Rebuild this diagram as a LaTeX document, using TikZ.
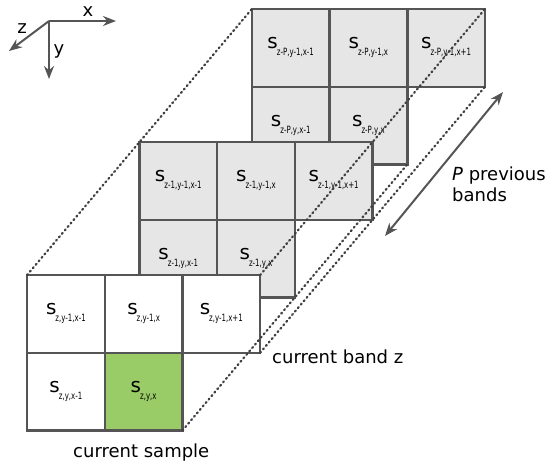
\documentclass[tikz,border=0pt]{standalone}
\usepackage{fontspec}
\setmainfont{DejaVu Sans}
\usetikzlibrary{arrows.meta}

\definecolor{bandgray}{RGB}{230,230,230}
\definecolor{edgegray}{RGB}{85,85,85}
\definecolor{samplegreen}{RGB}{153,204,102}

% sample label: s with its index
\newcommand{\smp}[1]{{\fontsize{20}{20}\selectfont s}\kern-1pt\raisebox{-7pt}{\scalebox{0.7}[1]{\fontsize{10}{10}\selectfont #1}}}

\tikzset{
  cell/.style={draw=edgegray, line width=2.5pt, minimum width=77.7pt, minimum height=77.7pt, inner sep=0pt, outer sep=0pt, fill=white},
  oldcell/.style={cell, fill=bandgray},
  dotline/.style={black!75, line width=2.2pt, line cap=round, dash pattern=on 1.2pt off 3.3pt},
  axis/.style={edgegray, line width=2pt, -{Stealth[length=13pt,width=10pt]}},
  lbl/.style={font=\fontsize{18}{21}\selectfont, inner sep=0pt}
}

\begin{document}
\begin{tikzpicture}[x=1pt,y=-1pt]
\useasboundingbox (0,0) rectangle (550,469);

% axes
\coordinate (o) at (49,21);
\coordinate (ax) at (116,21);
\coordinate (ay) at (49,79);
\coordinate (az) at (9,51);
\draw[axis] (o) -- (ax);
\draw[axis] (o) -- (ay);
\draw[axis] (o) -- (az);
\node[lbl] (xlab) at (88,12) {x};
\node[lbl] (ylab) at (59,51) {y};
\node[lbl] (zlab) at (22,29) {z};

% band z-P
\node[oldcell] (b11) at (290.7,47.9) {\smp{z-P,y-1,x-1}};
\node[oldcell] (b12) at (368.4,47.9) {\smp{z-P,y-1,x}};
\node[oldcell] (b13) at (446.1,47.9) {\smp{z-P,y-1,x+1}};
\node[oldcell] (b21) at (290.7,125.6) {\smp{z-P,y,x-1}};
\node[oldcell] (b22) at (368.4,125.6) {\smp{z-P,y,x}};

% band z-1
\node[oldcell] (m11) at (178.3,180.9) {\smp{z-1,y-1,x-1}};
\node[oldcell] (m12) at (256.0,180.9) {\smp{z-1,y-1,x}};
\node[oldcell] (m13) at (333.7,180.9) {\smp{z-1,y-1,x+1}};
\node[oldcell] (m21) at (178.3,258.6) {\smp{z-1,y,x-1}};
\node[oldcell] (m22) at (256.0,258.6) {\smp{z-1,y,x}};

% current band z
\node[cell] (f11) at (65.9,313.9) {\smp{z,y-1,x-1}};
\node[cell] (f12) at (143.6,313.9) {\smp{z,y-1,x}};
\node[cell] (f13) at (221.3,313.9) {\smp{z,y-1,x+1}};
\node[cell] (f21) at (65.9,391.6) {\smp{z,y,x-1}};
\node[cell, fill=samplegreen] (f22) at (143.6,391.6) {\smp{z,y,x}};

% dotted edges of the stack
\draw[dotline] (f11.north west) -- (b11.north west);
\draw[dotline] (f13.north east) -- (b13.north east);
\draw[dotline] (f13.south east) -- (b13.south east);
\draw[dotline] (f22.south east) -- (b22.south east);

% P previous bands
\coordinate (pl) at (385,236);
\coordinate (pu) at (503,92);
\draw[axis, {Stealth[length=13pt,width=10pt]}-{Stealth[length=13pt,width=10pt]}] (pl) -- (pu);
\node[lbl, align=left, anchor=north west] (prev) at (452,167) {\textit{P} previous\\bands};

\node[lbl, anchor=base west] (band) at (272,363) {current band z};
\node[lbl, anchor=base west] (cur) at (73,457) {current sample};
\end{tikzpicture}
\end{document}
